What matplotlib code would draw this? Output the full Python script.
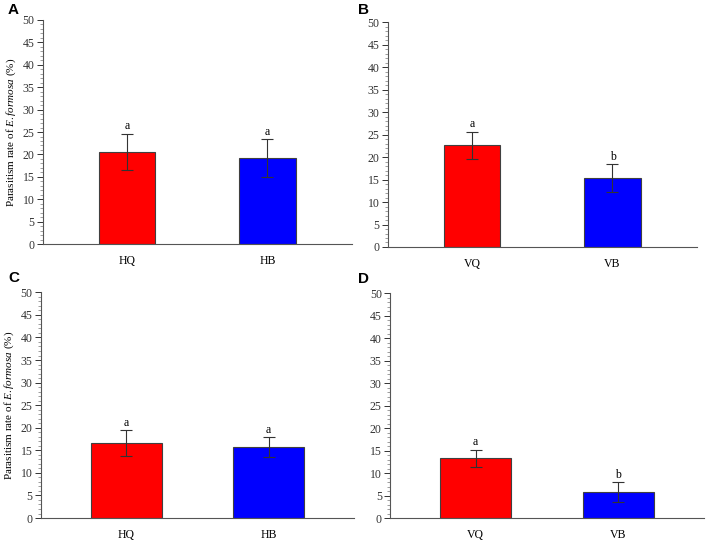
import matplotlib
matplotlib.use("Agg")
import matplotlib.pyplot as plt
from matplotlib.ticker import MultipleLocator

plt.rcParams['font.family'] = 'Liberation Serif'
plt.rcParams['mathtext.fontset'] = 'custom'
plt.rcParams['mathtext.rm'] = 'Liberation Serif'
plt.rcParams['mathtext.it'] = 'Liberation Serif:italic'

# Data
cats_A = ["HQ", "HB"]
vals_A = [20.6, 19.2]
errs_A = [4.0, 4.2]
sig_A = ["a", "a"]

cats_B = ["VQ", "VB"]
vals_B = [22.6, 15.3]
errs_B = [3.0, 3.1]
sig_B = ["a", "b"]

cats_C = ["HQ", "HB"]
vals_C = [16.6, 15.7]
errs_C = [2.9, 2.2]
sig_C = ["a", "a"]

cats_D = ["VQ", "VB"]
vals_D = [13.3, 5.8]
errs_D = [1.9, 2.2]
sig_D = ["a", "b"]

colors = ["#FF0000", "#0000FF"]
ylabel = r"Parasitism rate of $\mathit{E. formosa}$ (%)"

fig = plt.figure(figsize=(7.08, 5.4), dpi=100)

panels = [
    ("A", cats_A, vals_A, errs_A, sig_A, [0.0607, 0.548, 0.436, 0.415], 0.40, True),
    ("B", cats_B, vals_B, errs_B, sig_B, [0.548, 0.5426, 0.436, 0.4165], 0.40, False),
    ("C", cats_C, vals_C, errs_C, sig_C, [0.0579, 0.0407, 0.442, 0.418], 0.50, True),
    ("D", cats_D, vals_D, errs_D, sig_D, [0.551, 0.0407, 0.443, 0.4167], 0.50, False),
]
panel_label_pos = {"A": (8, 10), "B": (358, 10), "C": (8, 278), "D": (358, 279)}

for name, cats, vals, errs, sigs, rect, width, has_ylabel in panels:
    ax = fig.add_axes(rect)
    x = list(range(len(cats)))
    ax.bar(x, vals, width=width, color=colors, edgecolor="#404040", linewidth=0.8, zorder=2)
    ax.errorbar(x, vals, yerr=errs, fmt="none", ecolor="#333333", elinewidth=0.8,
                capsize=4, capthick=0.8, zorder=3)
    for xi, v, e, s in zip(x, vals, errs, sigs):
        ax.text(xi, v + e + 0.3, s, ha="center", va="bottom", fontsize=8.5)
    ax.set_xlim(-0.6, 1.6)
    ax.set_ylim(0, 50)
    ax.set_xticks(x)
    ax.set_xticklabels(cats, fontsize=8.5)
    ax.yaxis.set_major_locator(MultipleLocator(5))
    ax.yaxis.set_minor_locator(MultipleLocator(1))
    ax.tick_params(axis="y", which="major", direction="out", length=4, width=0.7,
                   labelsize=8.5, colors="#333333", pad=2)
    ax.tick_params(axis="y", which="minor", direction="out", length=2, width=0.5, colors="#777777")
    ax.tick_params(axis="x", length=0, pad=8, labelsize=8.5)
    for sp in ["top", "right"]:
        ax.spines[sp].set_visible(False)
    for sp in ["left", "bottom"]:
        ax.spines[sp].set_color("#555555")
        ax.spines[sp].set_linewidth(0.8)
    if has_ylabel:
        ax.set_ylabel(ylabel, fontsize=8, labelpad=3)
    px, py = panel_label_pos[name]
    fig.text(px / 708, 1 - py / 540, name, fontsize=11, fontweight="bold",
             family="Liberation Sans", ha="left", va="center")

fig.savefig("out.png", dpi=100)
